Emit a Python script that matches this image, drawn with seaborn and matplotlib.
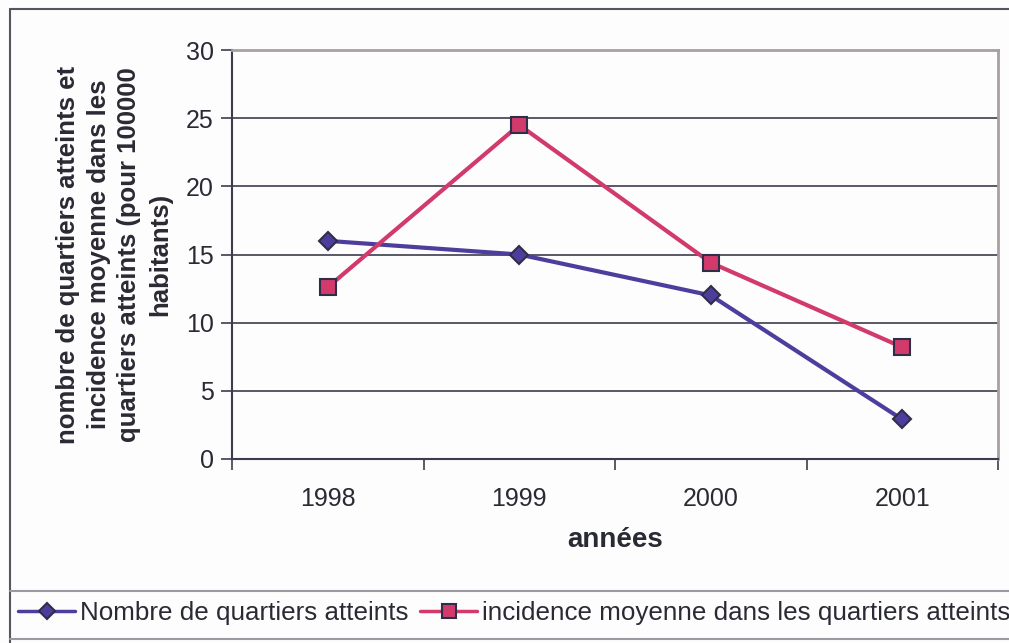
import pandas as pd
import matplotlib
matplotlib.use("Agg")
import matplotlib.pyplot as plt
from matplotlib.lines import Line2D
import seaborn as sns

years = ["1998", "1999", "2000", "2001"]
nombre = [16, 15, 12, 2.9]
incidence = [12.6, 24.5, 14.4, 8.2]
series_names = ["Nombre de quartiers atteints",
                "incidence moyenne dans les quartiers atteints"]

blue = "#4F3D9E"
pink = "#D13A6B"
edge = "#2E2E48"
dark = "#3C3C4E"
txt = "#2A2A34"

sns.set_theme(style="white")
plt.rcParams["font.family"] = ["Liberation Sans", "DejaVu Sans"]

W, H = 1009, 643
fig = plt.figure(figsize=(W / 100, H / 100), dpi=100)
fig.patch.set_facecolor("#FDFDFD")

def px(x0, y0, x1, y1):
    return [x0 / W, 1 - y1 / H, (x1 - x0) / W, (y1 - y0) / H]

ax = fig.add_axes(px(232, 50, 998, 459))
ax.set_facecolor("#FDFDFD")

df = pd.DataFrame({
    "pos": list(range(len(years))) * 2,
    "value": nombre + incidence,
    "serie": [series_names[0]] * 4 + [series_names[1]] * 4,
})

sns.lineplot(data=df, x="pos", y="value", hue="serie", style="serie",
             palette=[blue, pink], markers=["D", "s"], dashes=False,
             markersize=9, markeredgecolor=edge, markeredgewidth=1.5,
             linewidth=3, ax=ax, legend=False)
for ln, ms in zip(ax.get_lines(), [9, 11]):
    ln.set_markersize(ms)

ax.set_ylim(0, 30)
ax.set_xlim(-0.5, 3.5)
ax.set_yticks(range(0, 31, 5))
for y in range(5, 30, 5):
    ax.axhline(y, color=dark, lw=1.2, zorder=0)
ax.set_xticks([-0.5, 0.5, 1.5, 2.5, 3.5])
ax.set_xticklabels([])
ax.set_xticks(range(4), minor=True)
ax.set_xticklabels(years, minor=True)
ax.tick_params(axis="x", which="major", direction="out", length=8, width=1.2,
               color=dark, bottom=True)
ax.tick_params(axis="x", which="minor", length=0, pad=20, labelsize=18,
               labelcolor=txt)
ax.tick_params(axis="y", direction="out", length=8, width=1.2, color=dark,
               left=True, pad=5, labelsize=18, labelcolor=txt)

for s in ["left", "bottom"]:
    ax.spines[s].set_color(dark)
    ax.spines[s].set_linewidth(1.5)
for s in ["top", "right"]:
    ax.spines[s].set_color("#A8A0A0")
    ax.spines[s].set_linewidth(2)

ax.set_xlabel("années", fontsize=20, fontweight="bold", color=txt,
              labelpad=12)
ax.set_ylabel("nombre de quartiers atteints et\nincidence moyenne dans les\n"
              "quartiers atteints (pour 100000\nhabitants)",
              fontsize=18.5, fontweight="bold", color=txt,
              linespacing=1.35, labelpad=10)

# outer frame and legend box
fig.add_artist(Line2D([10 / W, 10 / W], [0, 1 - 9 / H], color="#55555F", lw=1.5))
fig.add_artist(Line2D([10 / W, 1], [1 - 9 / H, 1 - 9 / H], color="#55555F", lw=1.5))
for yy in [591, 639]:
    fig.add_artist(Line2D([10 / W, 1], [1 - yy / H, 1 - yy / H],
                          color="#9A9AA0", lw=1.5))

handles = [Line2D([], [], color=blue, lw=2.5, marker="D", markersize=8,
                  markeredgecolor=edge, markeredgewidth=1.5),
           Line2D([], [], color=pink, lw=2.5, marker="s", markersize=10,
                  markeredgecolor=edge, markeredgewidth=1.5)]
fig.legend(handles, series_names, loc="center left",
           bbox_to_anchor=(0.018, 1 - 613 / H), ncol=2, frameon=False,
           fontsize=18.7, handlelength=2.2, handletextpad=0.18,
           columnspacing=0.45, labelcolor=txt, borderpad=0, borderaxespad=0)

fig.savefig("out.png", dpi=100, facecolor=fig.get_facecolor())
